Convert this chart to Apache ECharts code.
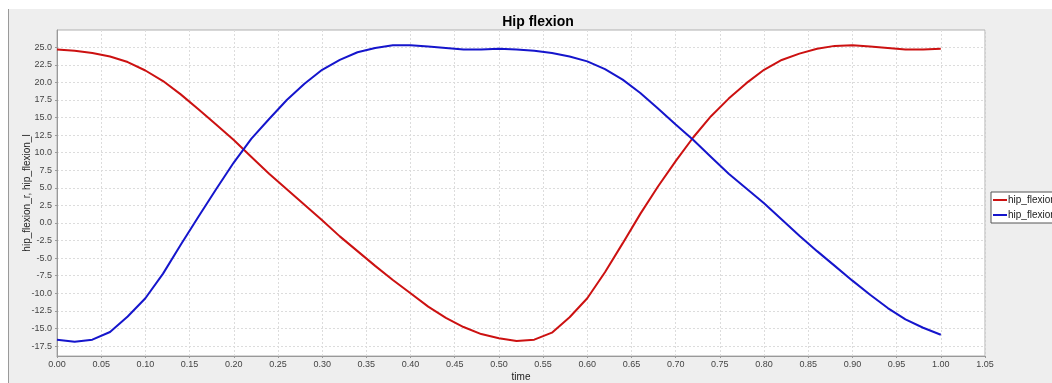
<!DOCTYPE html>
<html>
<head>
<meta charset="utf-8">
<script src="https://cdn.jsdelivr.net/npm/echarts@6/dist/echarts.min.js"></script>
<style>
html,body{margin:0;padding:0;background:#fff;}
#panel{position:absolute;left:8px;top:9px;width:1043px;height:374px;background:#eeeeee;border-left:1px solid #9a9a9a;}
#chart{position:absolute;left:0;top:0;width:1052px;height:383px;}
</style>
</head>
<body>
<div id="panel"></div>
<div id="chart"></div>
<script>
var times = [0.00,0.02,0.04,0.06,0.08,0.10,0.12,0.14,0.16,0.18,0.20,0.22,0.24,0.26,0.28,0.30,0.32,0.34,0.36,0.38,0.40,0.42,0.44,0.46,0.48,0.50,0.52,0.54,0.56,0.58,0.60,0.62,0.64,0.66,0.68,0.70,0.72,0.74,0.76,0.78,0.80,0.82,0.84,0.86,0.88,0.90,0.92,0.94,0.96,0.98,1.00];
var hipFlexionR = [24.7,24.5,24.2,23.7,22.9,21.7,20.2,18.3,16.2,14.0,11.8,9.4,7.0,4.8,2.6,0.4,-1.9,-4.0,-6.1,-8.1,-10.0,-11.9,-13.5,-14.8,-15.8,-16.4,-16.8,-16.6,-15.6,-13.4,-10.7,-7.0,-2.9,1.3,5.2,8.8,12.2,15.2,17.7,19.9,21.8,23.2,24.1,24.8,25.2,25.3,25.1,24.9,24.7,24.7,24.8];
var hipFlexionL = [-16.6,-16.9,-16.6,-15.5,-13.3,-10.7,-7.2,-3.1,0.9,4.8,8.6,12.0,14.8,17.5,19.8,21.8,23.2,24.3,24.9,25.3,25.3,25.1,24.9,24.7,24.7,24.8,24.7,24.5,24.2,23.7,23.0,21.9,20.4,18.5,16.3,14.0,11.8,9.4,7.0,4.9,2.8,0.5,-1.8,-4.0,-6.1,-8.2,-10.2,-12.1,-13.7,-14.9,-15.9];
var seriesNames = ['hip_flexion_r','hip_flexion_l'];
var yTicks = [-17.5,-15,-12.5,-10,-7.5,-5,-2.5,0,2.5,5,7.5,10,12.5,15,17.5,20,22.5,25];

function pairs(vals){ return times.map(function(t,i){ return [t, vals[i]]; }); }

var chart = echarts.init(document.getElementById('chart'), null, {renderer:'canvas'});
var font = 'Liberation Sans, Arial, sans-serif';
chart.setOption({
  backgroundColor: 'transparent',
  animation: false,
  title: {
    text: 'Hip flexion', left: 533, top: 10, textAlign: 'center',
    textStyle: {fontFamily: font, fontSize: 14, fontWeight: 'bold', color: '#000'}
  },
  legend: {
    orient: 'vertical', left: 991, top: 192,
    backgroundColor: '#fff', borderColor: '#555', borderWidth: 1,
    padding: [3, 3, 3, 2], itemGap: 5, itemWidth: 14, itemHeight: 2, icon: 'rect',
    textStyle: {fontFamily: font, fontSize: 10, color: '#222', padding: [0,0,0,-4]},
    data: seriesNames
  },
  grid: {
    left: 57, top: 30, width: 928, height: 326,
    show: true, backgroundColor: '#fff', borderColor: '#b0b0b0', borderWidth: 1,
    containLabel: false, outerBoundsMode: 'none'
  },
  xAxis: {
    type: 'value', min: 0, max: 1.05, interval: 0.05,
    name: 'time', nameLocation: 'middle', nameGap: 16, nameMoveOverlap: false,
    nameTextStyle: {fontFamily: font, fontSize: 10, color: '#222'},
    axisLine: {show: true, onZero: false, lineStyle: {color: '#999'}},
    axisTick: {show: true, length: 2, lineStyle: {color: '#999'}},
    axisLabel: {fontFamily: font, fontSize: 9, color: '#444', margin: 4,
      formatter: function(v){ return v.toFixed(2); }},
    splitLine: {show: true, lineStyle: {color: '#dcdcdc', type: [2,2], width: 1}}
  },
  yAxis: {
    type: 'value', min: -18.92, max: 27.46,
    name: 'hip_flexion_r, hip_flexion_l', nameLocation: 'middle', nameGap: 25, nameRotate: 90, nameMoveOverlap: false,
    nameTextStyle: {fontFamily: font, fontSize: 10, color: '#222'},
    axisLine: {show: true, onZero: false, lineStyle: {color: '#999'}},
    axisTick: {show: true, length: 2, lineStyle: {color: '#999'}, customValues: yTicks},
    axisLabel: {fontFamily: font, fontSize: 9, color: '#444', margin: 5, customValues: yTicks,
      formatter: function(v){ return v.toFixed(1); }},
    splitLine: {show: true, lineStyle: {color: '#dcdcdc', type: [2,2], width: 1}}
  },
  series: [
    {name: seriesNames[0], type: 'line', data: pairs(hipFlexionR), showSymbol: false, symbol: 'none',
      lineStyle: {color: '#cc1111', width: 2}, itemStyle: {color: '#cc1111'}},
    {name: seriesNames[1], type: 'line', data: pairs(hipFlexionL), showSymbol: false, symbol: 'none',
      lineStyle: {color: '#1515cc', width: 2}, itemStyle: {color: '#1515cc'}}
  ]
});
</script>
</body>
</html>
